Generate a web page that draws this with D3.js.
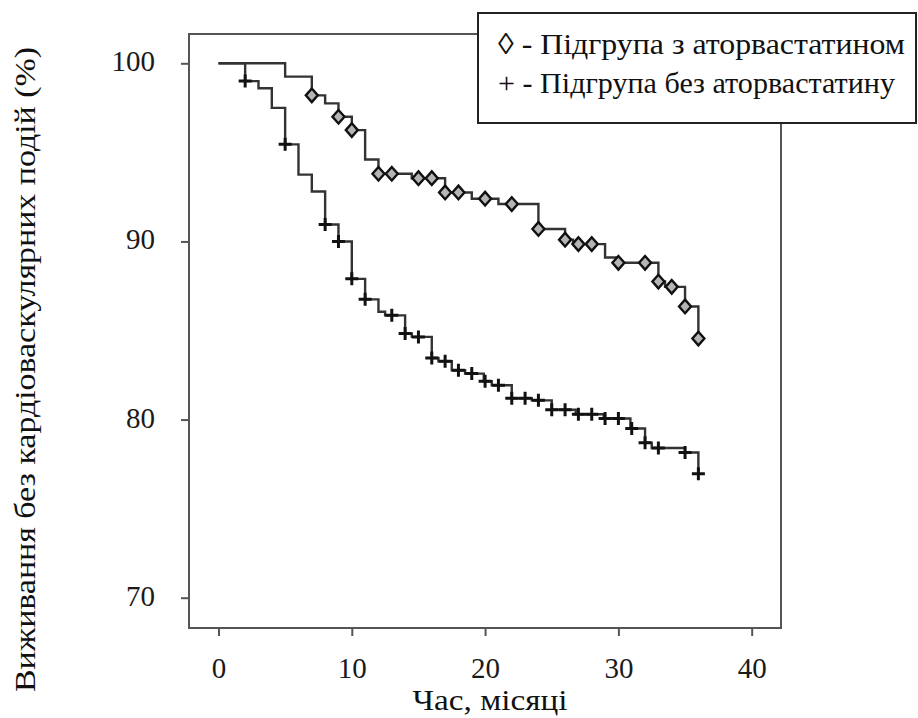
<!DOCTYPE html>
<html><head><meta charset="utf-8">
<script src="https://cdn.jsdelivr.net/npm/d3@7"></script>
<style>
html,body{margin:0;padding:0;background:#fff;}
svg{display:block;}
svg text{font-family:"Liberation Serif","Times New Roman",serif !important;}
</style>
</head><body>
<svg id="chart" width="918" height="718"></svg>
<script>
// ---- data ----
const xTicks = [0, 10, 20, 30, 40];
const yTicks = [70, 80, 90, 100];
const xLabel = "Час, місяці";
const yLabel = "Виживання без кардіоваскулярних подій (%)";
const legendLabels = ["◊ - Підгрупа з аторвастатином", "+ - Підгрупа без аторвастатину"];

// with atorvastatin: step times (months) and survival (%)
const atorTimes  = [0, 5, 7, 8, 9, 10, 11, 12, 14.5, 17, 19, 21, 24, 26, 26.6, 29, 30, 33, 33.5, 35, 36];
const atorSurv   = [100, 99.25, 98.2, 97.75, 97.0, 96.25, 94.6, 93.8, 93.55, 92.75, 92.4, 92.1, 90.7, 90.1, 89.85, 89.1, 88.8, 87.75, 87.45, 86.35, 84.55];
const atorMarks  = [7, 9, 10, 12, 13, 15, 16, 17, 18, 20, 22, 24, 26, 27, 28, 30, 32, 33, 34, 35, 36];

// without atorvastatin
const noAtorTimes = [0, 2, 3, 4, 5, 6, 7, 8, 9, 10, 11, 12, 12.5, 14, 14.5, 16, 16.5, 17.5, 18.5, 19.9, 20.5, 22, 23.5, 25, 26.8, 28.9, 30.9, 32, 32.5, 35, 36];
const noAtorSurv  = [100, 99.0, 98.6, 97.5, 95.45, 93.75, 92.8, 90.95, 90.0, 87.9, 86.75, 86.05, 85.85, 84.83, 84.64, 83.46, 83.27, 82.77, 82.58, 82.15, 81.93, 81.2, 81.08, 80.55, 80.3, 80.06, 79.5, 78.7, 78.4, 78.15, 76.96];
const noAtorMarks = [2, 5, 8, 9, 10, 11, 13, 14, 15, 16, 17, 18, 19, 20, 21, 22, 23, 24, 25, 26, 27, 28, 29, 30, 31, 32, 33, 35, 36];

// ---- layout ----
const svg = d3.select("#chart");
const frame = {left: 189, right: 781, top: 34, bottom: 628};
const x = d3.scaleLinear().domain([0, 40]).range([218.5, 751.7]);
const y = d3.scaleLinear().domain([70, 100]).range([597.7, 63.3]);
const axisColor = "#555";
const lineColor = "#333";

// frame
svg.append("rect")
  .attr("x", frame.left).attr("y", frame.top)
  .attr("width", frame.right - frame.left).attr("height", frame.bottom - frame.top)
  .attr("fill", "none").attr("stroke", axisColor).attr("stroke-width", 2);

// axes
const xAxis = d3.axisBottom(x).tickValues(xTicks).tickSize(8).tickPadding(12).tickFormat(d3.format("d"));
const gx = svg.append("g").attr("transform", `translate(0,${frame.bottom})`).call(xAxis);
gx.attr("font-family", null);
gx.select(".domain").remove();
gx.selectAll(".tick line").attr("stroke", axisColor).attr("stroke-width", 2);
gx.selectAll(".tick text").attr("font-size", 29).attr("fill", "#1a1a1a")
  .attr("y", 50).attr("dy", null);

const yAxis = d3.axisLeft(y).tickValues(yTicks).tickSize(8).tickPadding(26).tickFormat(d3.format("d"));
const gy = svg.append("g").attr("transform", `translate(${frame.left},0)`).call(yAxis);
gy.attr("font-family", null);
gy.select(".domain").remove();
gy.selectAll(".tick line").attr("stroke", axisColor).attr("stroke-width", 2);
gy.selectAll(".tick text").attr("font-size", 29).attr("fill", "#1a1a1a")
  .attr("x", -34).attr("dy", null).attr("y", 7.5);

// axis labels
svg.append("text").attr("x", 490).attr("y", 710).attr("text-anchor", "middle")
  .attr("font-size", 30).attr("fill", "#111")
  .attr("textLength", 155).attr("lengthAdjust", "spacingAndGlyphs").text(xLabel);
svg.append("text").attr("transform", "translate(35,369.5) rotate(-90)").attr("text-anchor", "middle")
  .attr("font-size", 30).attr("fill", "#111")
  .attr("textLength", 645).attr("lengthAdjust", "spacingAndGlyphs").text(yLabel);

// curves
function stepValue(times, vals, t) {
  const i = d3.bisectRight(times, t) - 1;
  return vals[Math.max(0, i)];
}
const line = d3.line().x(d => x(d[0])).y(d => y(d[1])).curve(d3.curveStepAfter);
const atorData = atorTimes.map((t, i) => [t, atorSurv[i]]);
const noAtorData = noAtorTimes.map((t, i) => [t, noAtorSurv[i]]);

svg.append("path").datum(noAtorData).attr("d", line)
  .attr("fill", "none").attr("stroke", lineColor).attr("stroke-width", 2.4);
svg.append("path").datum(atorData).attr("d", line)
  .attr("fill", "none").attr("stroke", lineColor).attr("stroke-width", 2.4);

// markers: plus
const plusSize = 6.5;
svg.append("g").selectAll("path").data(noAtorMarks).join("path")
  .attr("transform", t => `translate(${x(t)},${y(stepValue(noAtorTimes, noAtorSurv, t))})`)
  .attr("d", `M${-plusSize},0H${plusSize}M0,${-plusSize}V${plusSize}`)
  .attr("stroke", "#111").attr("stroke-width", 3).attr("fill", "none");

// markers: diamond
const dw = 6, dh = 6.8;
svg.append("g").selectAll("path").data(atorMarks).join("path")
  .attr("transform", t => `translate(${x(t)},${y(stepValue(atorTimes, atorSurv, t))})`)
  .attr("d", `M0,${-dh}L${dw},0L0,${dh}L${-dw},0Z`)
  .attr("stroke", "#111").attr("stroke-width", 2.4).attr("fill", "#b5b5b5");

// legend
svg.append("rect").attr("x", 478).attr("y", 13).attr("width", 438).attr("height", 110)
  .attr("fill", "#fff").attr("stroke", "#222").attr("stroke-width", 2);
const legendW = [407, 397];
const legendY = [53.5, 92.5];
svg.append("g").selectAll("text").data(legendLabels).join("text")
  .attr("x", 498).attr("y", (d, i) => legendY[i])
  .attr("font-size", 30).attr("fill", "#111")
  .attr("textLength", (d, i) => legendW[i]).attr("lengthAdjust", "spacingAndGlyphs")
  .text(d => d);
</script>
</body></html>
